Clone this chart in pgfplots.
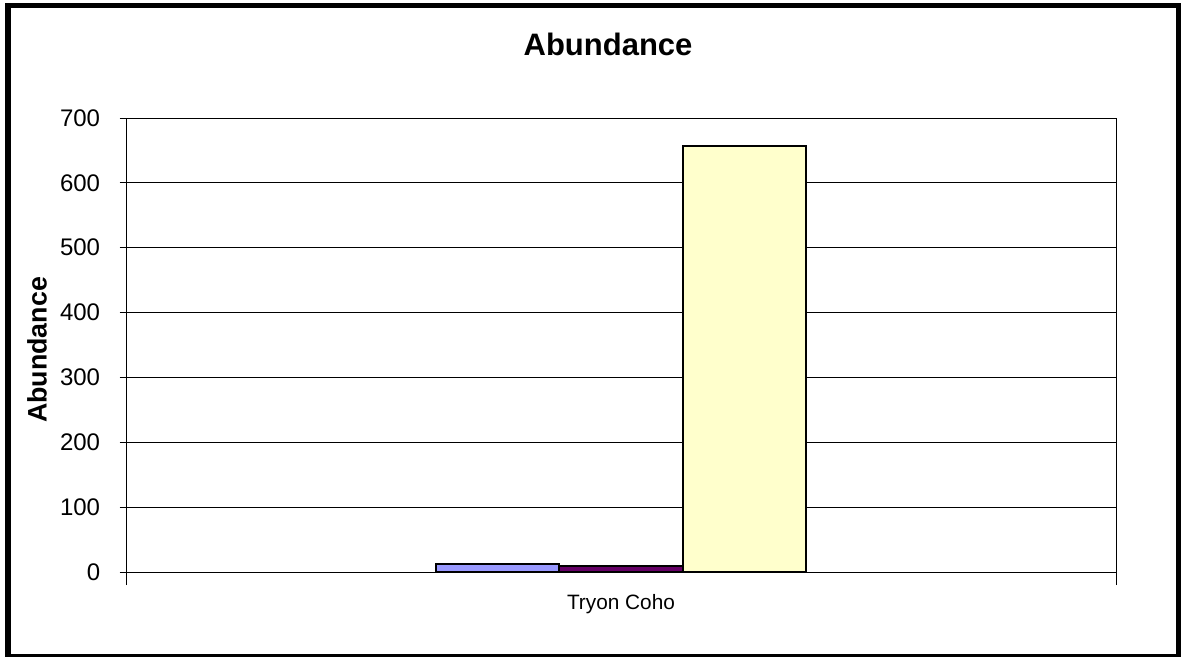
\documentclass[border=0pt]{standalone}
\usepackage{fontspec}
\setmainfont{Liberation Sans}
\usepackage{pgfplots}
\pgfplotsset{compat=1.18}

\definecolor{serA}{HTML}{9999FF}
\definecolor{serB}{HTML}{660066}
\definecolor{serC}{HTML}{FFFFCC}

\begin{document}
\begin{tikzpicture}
  % page = 1183 x 657 px, 1 px = 0.5pt
  \useasboundingbox (0pt,0pt) rectangle (591.5pt,-328.5pt);
  \draw[line width=2.7pt] (4pt,-2.75pt) rectangle (589.25pt,-328.25pt);

  \begin{axis}[
      at={(63pt,-286pt)}, anchor=south west,
      scale only axis, width=495pt, height=227pt,
      xmin=0, xmax=1, ymin=0, ymax=700,
      ytick distance=100,
      xtick={0,1}, xticklabels={},
      xtick pos=lower, ytick pos=left,
      extra x ticks={0.5}, extra x tick labels={Tryon Coho},
      extra x tick style={major tick length=0pt, grid=none,
        xticklabel style={font=\fontsize{10.4}{12}\selectfont, anchor=base, inner sep=0pt, yshift=-18.5pt}},
      ymajorgrids, grid style={black, line width=0.5pt},
      axis line style={black, line width=0.5pt},
      tick style={black, line width=0.5pt},
      tick align=center, major tick length=6.5pt,
      /pgf/number format/assume math mode=true,
      yticklabel style={font=\fontsize{12}{14}\selectfont, inner sep=0pt, anchor=east, xshift=-9.5pt},
      title={Abundance},
      title style={font=\fontsize{15.5}{18}\selectfont\bfseries, at={(axis description cs:0.4869,1)}, anchor=base, yshift=25.5pt},
      ylabel={Abundance},
      ylabel style={font=\fontsize{13.4}{16}\selectfont\bfseries, at={(axis description cs:-0.0899,0.489)}, anchor=center},
      ybar, bar width=0.1246,
    ]
    \addplot[fill=serA, draw=black, line width=0.9pt, bar shift=-0.1246] coordinates {(0.5,12)};
    \addplot[fill=serB, draw=black, line width=0.9pt, bar shift=0] coordinates {(0.5,9)};
    \addplot[fill=serC, draw=black, line width=0.9pt, bar shift=0.1246] coordinates {(0.5,657)};
  \end{axis}
\end{tikzpicture}
\end{document}
